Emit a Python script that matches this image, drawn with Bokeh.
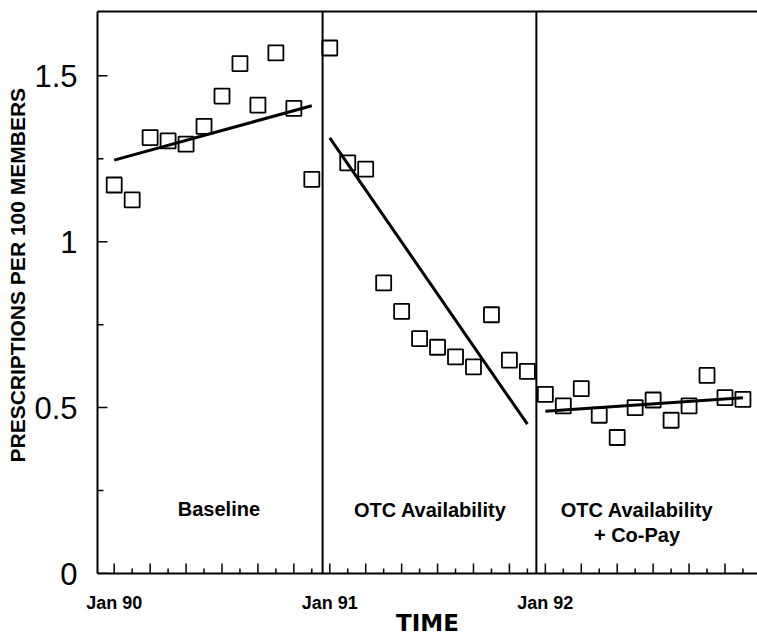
from bokeh.plotting import figure
from bokeh.models import Range1d, FixedTicker, LinearAxis, Span, Title
from bokeh.core.properties import value
from bokeh.embed import file_html
from bokeh.resources import INLINE

# ---- data ----
months = list(range(36))  # 0 = Jan 90 ... 35 = Dec 92
rx_rate = [1.171, 1.126, 1.314, 1.304, 1.294, 1.348, 1.439, 1.537, 1.412, 1.569, 1.402, 1.188,
           1.584, 1.238, 1.219, 0.876, 0.790, 0.708, 0.682, 0.653, 0.623, 0.780, 0.643, 0.609,
           0.540, 0.505, 0.557, 0.477, 0.410, 0.500, 0.523, 0.462, 0.505, 0.597, 0.530, 0.525]
trend_x = [[0, 11], [12, 23], [24, 35]]
trend_y = [[1.246, 1.410], [1.313, 0.450], [0.489, 0.530]]
phase_breaks = [11.6, 23.5]
phase_names = ["Baseline", "OTC Availability", "OTC Availability", "+ Co-Pay"]
phase_name_x = [5.83, 17.59, 29.1, 29.1]
phase_name_y = [0.195, 0.192, 0.192, 0.115]
year_tick_pos = [0, 12, 24]
year_tick_labels = ["Jan 90", "Jan 91", "Jan 92"]
month_major = list(range(0, 36, 2))
month_minor = list(range(1, 36, 2))
y_ticks = [0, 0.5, 1, 1.5]
y_tick_labels = ["0", "0.5", "1", "1.5"]
y_minor = [0.25, 0.75, 1.25]

X0, X1 = -0.93, 35.81
Y0, Y1 = 0.0, 1.694
W, H = 757, 638
BL, BR, BT, BB = 95, 0, 11, 64
FW, FH = W - BL - BR, H - BT - BB
XPX = (X1 - X0) / FW   # data units per pixel (x)
YPX = (Y1 - Y0) / FH   # data units per pixel (y)

p = figure(width=W, height=H, x_range=Range1d(X0, X1), y_range=Range1d(Y0, Y1),
           output_backend="svg", toolbar_location=None,
           min_border_left=BL, min_border_right=BR, min_border_top=BT, min_border_bottom=BB)
p.outline_line_color = None
p.grid.visible = False
p.background_fill_color = "white"
p.border_fill_color = "white"

# x axis
xa = p.xaxis[0]
xa.ticker = FixedTicker(ticks=year_tick_pos)
xa.major_label_overrides = {pos: lab for pos, lab in zip(year_tick_pos, year_tick_labels)}
xa.axis_line_width = 2
xa.axis_line_color = "black"
xa.major_tick_line_color = None
xa.minor_tick_line_color = None
xa.major_label_text_font = "Liberation Sans"
xa.major_label_text_font_style = "bold"
xa.major_label_text_font_size = "18px"
xa.major_label_text_color = "black"
xa.major_label_standoff = 13
xa.axis_label = "TIME"
xa.axis_label_text_font = "DejaVu Sans"
xa.axis_label_text_font_style = "bold"
xa.axis_label_text_font_size = "23px"
xa.axis_label_text_color = "black"
xa.axis_label_standoff = -6

# y axis
ya = p.yaxis[0]
ya.ticker = FixedTicker(ticks=y_ticks)
ya.major_label_overrides = {t: l for t, l in zip(y_ticks, y_tick_labels)}
ya.axis_line_width = 2
ya.axis_line_color = "black"
ya.major_tick_line_color = None
ya.minor_tick_line_color = None
ya.major_label_text_font = "Liberation Sans"
ya.major_label_text_font_style = "normal"
ya.major_label_text_font_size = "31px"
ya.major_label_text_color = "black"
ya.major_label_standoff = 14

# y axis title as a left-side title, starting a fixed distance above the frame bottom
p.add_layout(Title(text="PRESCRIPTIONS PER 100 MEMBERS", align="left", offset=111,
                   standoff=6, text_font="Liberation Sans", text_font_style="bold",
                   text_font_size="21px", text_color="black"), "left")

# top frame line
top = LinearAxis(ticker=FixedTicker(ticks=[]), axis_line_width=2, axis_line_color="black",
                 major_tick_in=0, major_tick_out=0, minor_tick_in=0, minor_tick_out=0,
                 major_label_text_font_size="0px")
p.add_layout(top, "above")

# inward ticks (lengths in pixels converted to data units)
p.segment(x0=month_major, y0=[Y0] * len(month_major), x1=month_major,
          y1=[Y0 + 10 * YPX] * len(month_major), line_color="black", line_width=1.5)
p.segment(x0=month_minor, y0=[Y0] * len(month_minor), x1=month_minor,
          y1=[Y0 + 5 * YPX] * len(month_minor), line_color="black", line_width=1.5)
p.segment(x0=[X0] * len(y_ticks), y0=y_ticks, x1=[X0 + 10 * XPX] * len(y_ticks), y1=y_ticks,
          line_color="black", line_width=1.5)
p.segment(x0=[X0] * len(y_minor), y0=y_minor, x1=[X0 + 6 * XPX] * len(y_minor), y1=y_minor,
          line_color="black", line_width=1.5)

# phase dividers
for b in phase_breaks:
    p.add_layout(Span(location=b, dimension="height", line_color="black", line_width=2))

# trend lines
p.multi_line(trend_x, trend_y, line_color="black", line_width=3)

# monthly points
p.scatter(months, rx_rate, marker="square", size=15, fill_color=None,
          line_color="black", line_width=1.8)

# phase labels
p.text(x=phase_name_x, y=phase_name_y, text=phase_names,
       text_font=value("Liberation Sans"), text_font_style="bold", text_font_size="20px",
       text_align="center", text_baseline="middle", text_color="black")

open("out.html", "w").write(file_html(p, INLINE))
